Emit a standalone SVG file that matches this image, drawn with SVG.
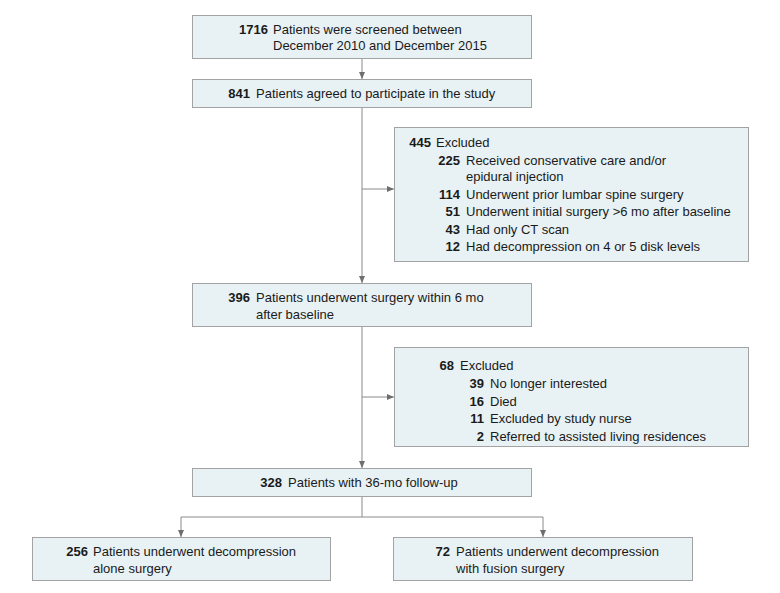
<svg xmlns="http://www.w3.org/2000/svg" width="780" height="593" viewBox="0 0 780 593">
<defs>
<style>
.box{fill:#e8f2f4;stroke:#a3a3a3;stroke-width:1}
.ln{fill:none;stroke:#8a8a8a;stroke-width:1}
text{font-family:"Liberation Sans",Arial,sans-serif;font-size:13px;fill:#1a1a1a}
.n{font-weight:bold;text-anchor:end}
</style>
<marker id="ah" markerUnits="userSpaceOnUse" markerWidth="8" markerHeight="8" viewBox="0 0 8 8" refX="7" refY="4" orient="auto">
<path d="M0,1 L7,4 L0,7 Z" fill="#6e6e6e"/>
</marker>
</defs>
<rect width="780" height="593" fill="#ffffff"/>
<g id="connectors">
<line class="ln" x1="362" y1="58" x2="362" y2="79" marker-end="url(#ah)"/>
<line class="ln" x1="362" y1="107" x2="362" y2="283" marker-end="url(#ah)"/>
<line class="ln" x1="362" y1="189" x2="394" y2="189" marker-end="url(#ah)"/>
<line class="ln" x1="362" y1="327" x2="362" y2="468" marker-end="url(#ah)"/>
<line class="ln" x1="362" y1="397" x2="394" y2="397" marker-end="url(#ah)"/>
<line class="ln" x1="362" y1="496" x2="362" y2="517"/>
<line class="ln" x1="181" y1="517" x2="543" y2="517"/>
<line class="ln" x1="181" y1="517" x2="181" y2="537" marker-end="url(#ah)"/>
<line class="ln" x1="543" y1="517" x2="543" y2="537" marker-end="url(#ah)"/>
</g>
<g id="screened">
<rect class="box" x="192.5" y="15.5" width="339" height="43"/>
<text class="n" x="268" y="34">1716</text>
<text x="273" y="34">Patients were screened between</text>
<text x="273" y="50">December 2010 and December 2015</text>
</g>
<g id="agreed">
<rect class="box" x="192.5" y="79.5" width="339" height="28"/>
<text class="n" x="250" y="98">841</text>
<text x="256" y="98">Patients agreed to participate in the study</text>
</g>
<g id="excluded1">
<rect class="box" x="394.5" y="127.5" width="354" height="134"/>
<text class="n" x="431" y="147">445</text>
<text x="436" y="147">Excluded</text>
<text class="n" x="460" y="165">225</text>
<text x="466" y="165">Received conservative care and/or</text>
<text x="466" y="181">epidural injection</text>
<text class="n" x="460" y="199">114</text>
<text x="466" y="199">Underwent prior lumbar spine surgery</text>
<text class="n" x="460" y="216">51</text>
<text x="466" y="216">Underwent initial surgery &gt;6 mo after baseline</text>
<text class="n" x="460" y="234">43</text>
<text x="466" y="234">Had only CT scan</text>
<text class="n" x="460" y="251">12</text>
<text x="466" y="251">Had decompression on 4 or 5 disk levels</text>
</g>
<g id="surgery">
<rect class="box" x="192.5" y="283.5" width="339" height="43"/>
<text class="n" x="250" y="302">396</text>
<text x="256" y="302">Patients underwent surgery within 6 mo</text>
<text x="256" y="319">after baseline</text>
</g>
<g id="excluded2">
<rect class="box" x="394.5" y="347.5" width="354" height="99"/>
<text class="n" x="454" y="370">68</text>
<text x="460" y="370">Excluded</text>
<text class="n" x="484" y="388">39</text>
<text x="490" y="388">No longer interested</text>
<text class="n" x="484" y="406">16</text>
<text x="490" y="406">Died</text>
<text class="n" x="484" y="423">11</text>
<text x="490" y="423">Excluded by study nurse</text>
<text class="n" x="484" y="441">2</text>
<text x="490" y="441">Referred to assisted living residences</text>
</g>
<g id="followup">
<rect class="box" x="192.5" y="468.5" width="339" height="28"/>
<text class="n" x="282" y="487">328</text>
<text x="288" y="487">Patients with 36-mo follow-up</text>
</g>
<g id="decompression">
<rect class="box" x="32.5" y="537.5" width="298" height="43"/>
<text class="n" x="88" y="556">256</text>
<text x="93" y="556">Patients underwent decompression</text>
<text x="93" y="573">alone surgery</text>
</g>
<g id="fusion">
<rect class="box" x="393.5" y="537.5" width="299" height="43"/>
<text class="n" x="450" y="556">72</text>
<text x="456" y="556">Patients underwent decompression</text>
<text x="456" y="573">with fusion surgery</text>
</g>
</svg>
